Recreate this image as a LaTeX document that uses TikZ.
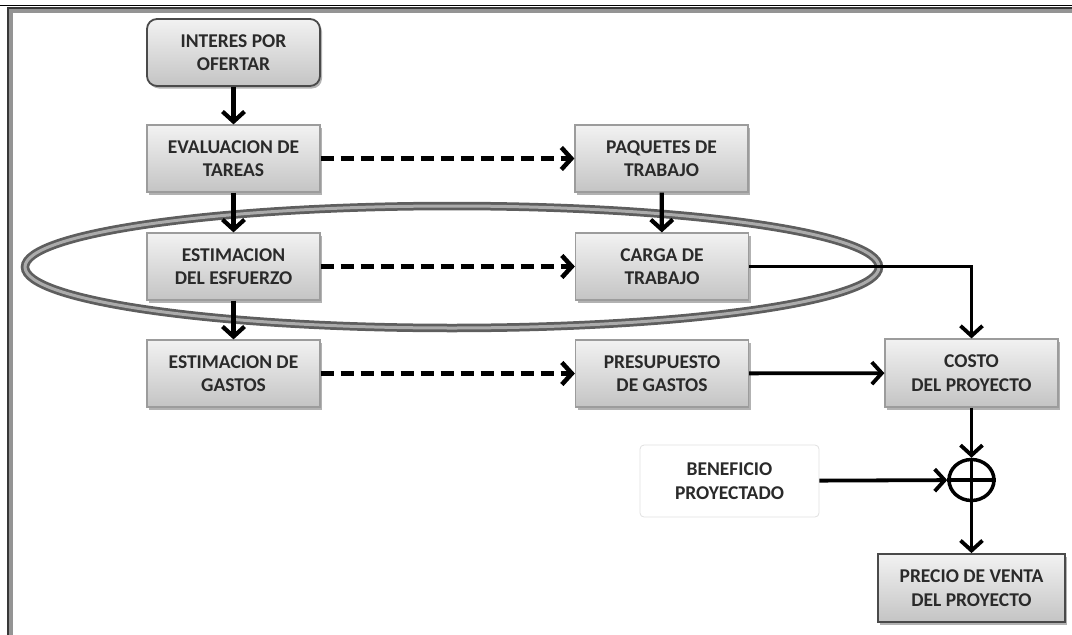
\documentclass[tikz,border=0pt]{standalone}
\usepackage{fontspec}
\setmainfont{Carlito}
\usetikzlibrary{arrows.meta,shadows,shapes.geometric}
\definecolor{txt}{HTML}{2A2A2A}
\definecolor{boxline}{HTML}{9C9C9C}
\definecolor{darkline}{HTML}{4A4A4A}
\definecolor{boxtop}{HTML}{F2F2F2}
\definecolor{boxbot}{HTML}{C4C4C4}
\definecolor{ringout}{HTML}{5E5E5E}
\definecolor{ringin}{HTML}{ABABAB}
\begin{document}
\begin{tikzpicture}[x=1pt,y=-1pt,
  box/.style={draw=boxline, line width=1.2pt, top color=boxtop, bottom color=boxbot,
    minimum width=173pt, minimum height=67pt, inner sep=2pt, align=center,
    font=\fontsize{19.5}{23.5}\selectfont\bfseries, text=txt,
    drop shadow={shadow xshift=2pt, shadow yshift=-2.5pt, opacity=0.3, fill=black}},
  darkbox/.style={box, draw=darkline, line width=1.8pt},
  plainbox/.style={draw=black!12, line width=0.8pt, rounded corners=4pt, fill=white,
    minimum width=179pt, minimum height=72pt, align=center,
    font=\fontsize{19.5}{23.5}\selectfont\bfseries, text=txt},
  arr/.style={line width=4.2pt, -{Straight Barb[length=10pt,width=22pt]}},
  darr/.style={line width=4.5pt, dash pattern=on 13pt off 7pt, -{Straight Barb[length=10pt,width=22pt]}},
  sumnode/.style={draw, line width=3.5pt, ellipse, minimum width=45pt, minimum height=41pt, inner sep=0pt}
]
\useasboundingbox (0,0) rectangle (1072,635);
% frame
\draw[line width=1.4pt, black] (0,5.5) -- (1072,5.5);
\draw[line width=4pt, black!42] (1072,10.5) -- (10.5,10.5) -- (10.5,635);
\draw[line width=1.5pt, black!78] (1072,8) -- (8,8) -- (8,635);

% ring
\draw[line width=8.5pt, ringout] (452,267) ellipse [x radius=427, y radius=61];
\draw[line width=3pt, ringin] (452,267) ellipse [x radius=427, y radius=61];

% nodes
\node[darkbox, rounded corners=10pt] (interes) at (233.5,52.5) {INTERES POR\\OFERTAR};
\node[box] (eval) at (233.5,158.5) {EVALUACION DE\\TAREAS};
\node[box] (paq) at (661.5,158.5) {PAQUETES DE\\TRABAJO};
\node[box] (esf) at (233.5,266.5) {ESTIMACION\\DEL ESFUERZO};
\node[box] (carga) at (662,266.5) {CARGA DE\\TRABAJO};
\node[box] (gastos) at (233.5,373.5) {ESTIMACION DE\\GASTOS};
\node[box] (presup) at (662,373.5) {PRESUPUESTO\\DE GASTOS};
\node[box, minimum height=68pt] (costo) at (971.5,373) {COSTO\\DEL PROYECTO};
\node[plainbox] (benef) at (729.5,481) {BENEFICIO\\PROYECTADO};
\node[sumnode] (sum) at (971.5,480) {};
\draw[line width=3.5pt] (sum.north) -- (sum.south) (sum.west) -- (sum.east);
\node[darkbox, minimum width=187pt, minimum height=68pt] (precio) at (971.5,588) {PRECIO DE VENTA\\DEL PROYECTO};

% connectors
\draw[arr] (interes) -- (eval);
\draw[arr] (eval) -- (esf);
\draw[arr] (esf) -- (gastos);
\draw[arr] (paq) -- (carga);
\draw[darr] (eval) -- (paq);
\draw[darr] (esf) -- (carga);
\draw[darr] (gastos) -- (presup);
\draw[arr, line width=3.8pt] (carga.east) -| (costo.north);
\draw[arr, line width=3.8pt] (presup) -- (costo);
\draw[arr, line width=3.8pt] (costo) -- (sum);
\draw[arr, line width=3.8pt] (benef) -- (sum);
\draw[arr, line width=3.8pt] (sum) -- (precio);
\end{tikzpicture}
\end{document}
